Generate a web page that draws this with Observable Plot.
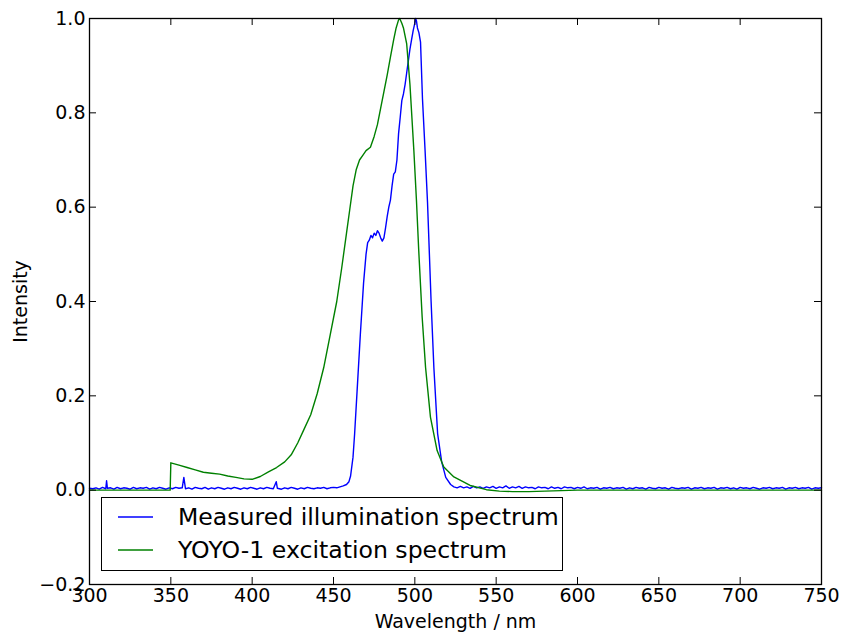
<!DOCTYPE html>
<html>
<head>
<meta charset="utf-8">
<script src="https://cdn.jsdelivr.net/npm/d3@7"></script>
<script src="https://cdn.jsdelivr.net/npm/@observablehq/plot@0.6"></script>
<style>
  html, body { margin: 0; padding: 0; background: #fff; }
  #wrap { position: relative; width: 841px; height: 632px; font-family: "DejaVu Sans", sans-serif; }
  #legend { position: absolute; left: 101px; top: 497px; width: 460px; height: 72px; border: 1.3px solid #000; background: #fff; box-sizing: content-box; }
  .row { position: absolute; left: 0; height: 30px; display: flex; align-items: center; font-size: 23.6px; color: #000; white-space: nowrap; }
  .row svg { margin-left: 16px; margin-right: 25px; }
</style>
</head>
<body>
<div id="wrap"></div>
<script>
// Series labels
const seriesNames = ["Measured illumination spectrum", "YOYO-1 excitation spectrum"];
const seriesColors = ["#0000ff", "#008000"];

// Axis ticks
const wavelengthTicks = [300, 350, 400, 450, 500, 550, 600, 650, 700, 750];
const intensityTicks = [-0.2, 0.0, 0.2, 0.4, 0.6, 0.8, 1.0];

// Measured illumination spectrum: [wavelength nm, intensity]
const measured = [
[300,.004],[302,.003],[304,.005],[306,.002],[308,.006],[310,.003],[310.5,.020],[311,.004],[313,.005],[315,.002],
[317,.006],[319,.003],[321,.005],[323,.004],[325,.002],[327,.006],[329,.003],[331,.005],[333,.004],[335,.006],
[337,.002],[339,.005],[341,.003],[343,.006],[345,.004],[347,.002],[349,.005],[351,.003],[353,.006],[355,.004],
[357,.005],[358,.027],[359,.003],[361,.005],[363,.002],[365,.006],[367,.004],[369,.003],[371,.006],[373,.002],
[375,.005],[377,.003],[379,.006],[381,.004],[383,.002],[385,.005],[387,.003],[389,.006],[391,.004],[393,.002],
[395,.005],[397,.003],[399,.006],[401,.004],[403,.002],[405,.005],[407,.003],[409,.006],[411,.004],[413,.003],
[414.8,.018],[415.5,.004],[418,.002],[420,.005],[422,.003],[424,.006],[426,.004],[428,.002],[430,.005],[432,.003],
[434,.006],[436,.004],[438,.003],[440,.005],[442,.004],[444,.006],[446,.003],[448,.005],[450,.006],[452,.005],
[454,.007],[456,.009],[458,.012],[459.5,.018],[460.5,.03],[462,.07],[463,.12],[464.5,.21],[466.5,.33],[468.5,.44],
[470,.50],[471,.525],[472,.53],[473,.54],[474,.535],[475,.545],[476,.54],[477,.55],[478,.545],[479,.535],
[480,.528],[481,.535],[482,.556],[483,.58],[484,.60],[485,.615],[486,.645],[487,.67],[488,.675],[489,.70],
[490,.756],[491,.79],[492,.826],[493,.84],[494,.86],[495,.885],[496,.91],[497,.935],[498,.955],[499,.975],
[500,.99],[500.5,1.0],[501,.995],[501.6,.98],[502.5,.97],[503.5,.95],[504.7,.83],[506.3,.72],[507.8,.61],[510,.40],
[511.7,.26],[514,.12],[516.5,.06],[519,.027],[522,.012],[524,.007],[526,.005],[528,.008],[530,.005],[532,.007],
[534,.004],[536,.008],[538,.005],[540,.007],[542,.004],[544,.007],[546,.005],[548,.008],[550,.004],[552,.007],
[554,.005],[556,.009],[558,.004],[560,.007],[562,.005],[564,.008],[566,.004],[568,.007],[570,.005],[572,.006],
[574,.003],[576,.007],[578,.005],[580,.006],[582,.003],[584,.007],[586,.004],[588,.006],[590,.003],[592,.007],
[594,.005],[596,.006],[598,.003],[600,.006],[602,.004],[604,.007],[606,.003],[608,.005],[610,.004],[612,.006],
[614,.002],[616,.005],[618,.004],[620,.006],[622,.003],[624,.005],[626,.004],[628,.006],[630,.002],[632,.005],
[634,.003],[636,.006],[638,.004],[640,.005],[642,.002],[644,.006],[646,.004],[648,.003],[650,.006],[652,.004],
[654,.005],[656,.002],[658,.006],[660,.004],[662,.003],[664,.005],[666,.004],[668,.006],[670,.002],[672,.005],
[674,.004],[676,.006],[678,.003],[680,.005],[682,.004],[684,.006],[686,.002],[688,.005],[690,.004],[692,.006],
[694,.003],[696,.005],[698,.002],[700,.006],[702,.004],[704,.005],[706,.003],[708,.006],[710,.004],[712,.002],
[714,.005],[716,.004],[718,.006],[720,.003],[722,.005],[724,.004],[726,.006],[728,.002],[730,.005],[732,.004],
[734,.006],[736,.003],[738,.005],[740,.004],[742,.006],[744,.002],[746,.005],[748,.004],[750,.005]
];

// YOYO-1 excitation spectrum: [wavelength nm, intensity]
const yoyo = [
[300,0],[349.6,0],[350,.058],[355,.053],[360,.048],[365,.043],[370,.038],[375,.036],[380,.034],[385,.030],
[390,.027],[395,.024],[400,.023],[405,.029],[410,.039],[415,.048],[420,.060],[424,.075],[428,.10],[432,.13],
[436,.16],[440,.205],[444,.26],[448,.33],[452,.40],[455,.47],[458,.545],[460,.595],[462,.645],[464,.68],
[466,.70],[468,.71],[470,.72],[472.7,.727],[475,.75],[477,.775],[479,.81],[481,.845],[483,.88],[485,.918],
[487,.955],[488.5,.98],[490,.997],[490.7,1.0],[492,.99],[493,.98],[495,.946],[497,.86],[499.4,.72],[501,.614],
[502.4,.508],[504.5,.367],[506.6,.26],[509.6,.155],[513.7,.084],[517.8,.049],[524,.028],[534,.010],[544,.001],[552,-.002],
[560,-.003],[570,-.003],[580,-.002],[590,-.001],[600,0],[750,0]
];

const W = 841, H = 632, mL = 89, mR = 20, mT = 18, mB = 48;
const innerW = W - mL - mR, innerH = H - mT - mB, tickLen = 7;

const chart = Plot.plot({
  width: W, height: H,
  marginLeft: mL, marginRight: mR, marginTop: mT, marginBottom: mB,
  style: { fontFamily: "DejaVu Sans", fontSize: "19px", color: "#000", background: "#fff", overflow: "visible" },
  x: { domain: [300, 750] },
  y: { domain: [-0.2, 1.0] },
  marks: [
    Plot.line(measured, { x: d => d[0], y: d => d[1], stroke: seriesColors[0], strokeWidth: 1.4 }),
    Plot.line(yoyo, { x: d => d[0], y: d => d[1], stroke: seriesColors[1], strokeWidth: 1.4 }),
    Plot.frame({ stroke: "#000", strokeWidth: 1.3 }),
    Plot.tickX(wavelengthTicks, { x: d => d, insetTop: innerH - tickLen, stroke: "#000" }),
    Plot.tickX(wavelengthTicks, { x: d => d, insetBottom: innerH - tickLen, stroke: "#000" }),
    Plot.tickY(intensityTicks, { y: d => d, insetRight: innerW - tickLen, stroke: "#000" }),
    Plot.tickY(intensityTicks, { y: d => d, insetLeft: innerW - tickLen, stroke: "#000" }),
    Plot.axisX(wavelengthTicks, { tickSize: 0, tickPadding: 4, label: "Wavelength / nm", labelAnchor: "center", labelOffset: 43, labelArrow: "none" }),
    Plot.axisY(intensityTicks, { tickSize: 0, tickPadding: 4, tickFormat: d3.format(".1f"), label: "Intensity", labelAnchor: "center", labelOffset: 76, labelArrow: "none" })
  ]
});

const wrap = document.getElementById("wrap");
wrap.appendChild(chart);

const legend = document.createElement("div");
legend.id = "legend";
seriesNames.forEach((name, i) => {
  const row = document.createElement("div");
  row.className = "row";
  row.style.top = (i === 0 ? 4 : 37) + "px";
  row.innerHTML = `<svg width="35" height="4"><line x1="0" x2="35" y1="2" y2="2" stroke="${seriesColors[i]}" stroke-width="1.4"/></svg><span>${name}</span>`;
  legend.appendChild(row);
});
wrap.appendChild(legend);
</script>
</body>
</html>
